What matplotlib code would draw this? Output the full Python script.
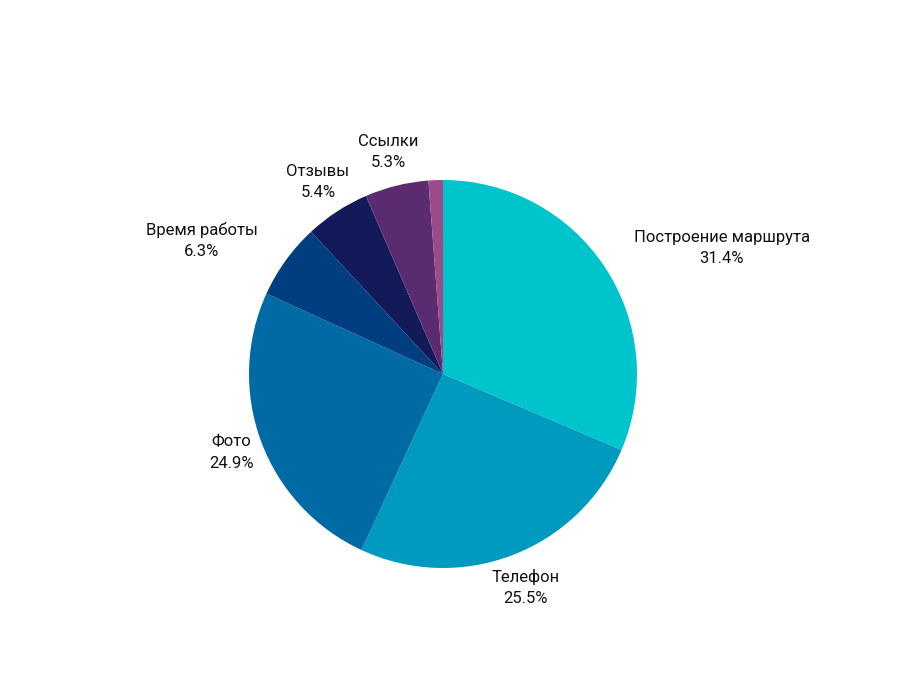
import numpy as np
import matplotlib.pyplot as plt

CATEGORIES = ["Построение маршрута", "Телефон", "Фото", "Время работы",
              "Отзывы", "Ссылки", ""]
SHARES = [31.4, 25.5, 24.9, 6.3, 5.4, 5.3, 1.2]
COLORS = ["#00c4cc", "#009abf", "#006aa4", "#003e80", "#131a5a", "#5a2b6e", "#9b4a8a"]
LABEL_HA = ["left", "center", "center", "right", "center", "center", "center"]
LABEL_DIST = [1.18, 1.18, 1.165, 1.18, 1.18, 1.18, 1.2]

plt.rcParams["font.family"] = ["Roboto", "DejaVu Sans"]

W, H = 900, 679
cx, cy, r = 443, 374, 194

fig = plt.figure(figsize=(W / 100, H / 100), dpi=100)
ax = fig.add_axes([(cx - r) / W, (H - cy - r) / H, 2 * r / W, 2 * r / H])

wedges, _ = ax.pie(SHARES, colors=COLORS, startangle=90, counterclock=False,
                   wedgeprops=dict(linewidth=0))
ax.set_xlim(-1, 1)
ax.set_ylim(-1, 1)
ax.set_aspect("auto")

for w, name, val, ha, d in zip(wedges, CATEGORIES, SHARES, LABEL_HA, LABEL_DIST):
    if not name:
        continue
    ang = np.deg2rad((w.theta1 + w.theta2) / 2)
    ax.text(d * np.cos(ang), d * np.sin(ang), f"{name}\n{val:.1f}%",
            ha=ha, va="center", multialignment="center",
            fontsize=12, color="#111111", linespacing=1.5, clip_on=False)

fig.savefig("out.png", dpi=100, facecolor="white")
